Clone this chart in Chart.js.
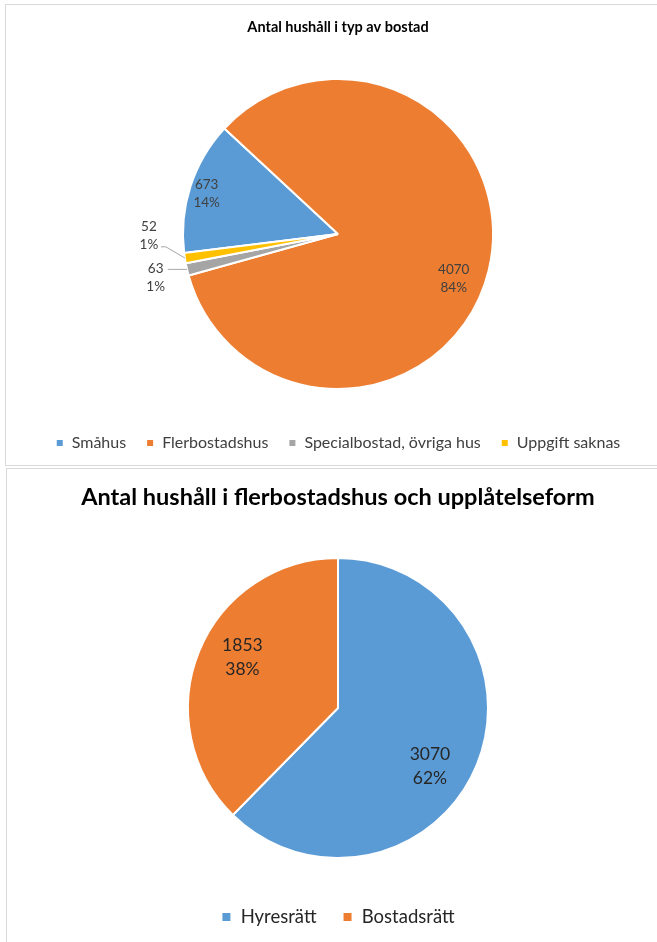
<!DOCTYPE html>
<html>
<head>
<meta charset="utf-8">
<script src="https://cdn.jsdelivr.net/npm/chart.js@4.4.1/dist/chart.umd.min.js"></script>
<style>
    body { margin: 0; width: 657px; height: 942px; overflow: hidden; background: #fff; position: relative; }
    .frame { position: absolute; border: 1px solid #d9d9d9; box-sizing: border-box; }
    .wrap { position: absolute; left: 0; width: 676px; }
</style>
</head>
<body>
<div class="frame" style="left:5px; top:4px; width:700px; height:462px;"></div>
<div class="frame" style="left:6px; top:468px; width:700px; height:500px;"></div>
<div class="wrap" style="top:0; height:465px;"><canvas id="bostadChart"></canvas></div>
<div class="wrap" style="top:468px; height:474px;"><canvas id="formChart"></canvas></div>
<script>
document.addEventListener("DOMContentLoaded", () => {
    const FONT = "Lato, 'Open Sans', sans-serif";

    // etiketter i tårtbitarna: r = andel av radien, da = vridning i grader från mitten
    const sliceLabels = {
        id: "sliceLabels",
        afterDatasetsDraw(chart, args, opts) {
            const ctx = chart.ctx;
            const values = chart.data.datasets[0].data;
            const total = values.reduce((a, b) => a + b, 0);
            ctx.save();
            ctx.font = opts.size + "px " + FONT;
            ctx.fillStyle = opts.color;
            ctx.textAlign = "center";
            ctx.textBaseline = "middle";
            chart.getDatasetMeta(0).data.forEach((arc, i) => {
                const p = opts.place[i];
                const mid = (arc.startAngle + arc.endAngle) / 2;
                const ang = mid + p.da * Math.PI / 180;
                const x = arc.x + Math.cos(ang) * arc.outerRadius * p.r;
                const y = arc.y + Math.sin(ang) * arc.outerRadius * p.r;
                const pct = Math.round(values[i] / total * 100) + "%";
                ctx.fillText(String(values[i]), x, y - opts.gap / 2);
                ctx.fillText(pct, x, y + opts.gap / 2);
                if (p.r > 1) {
                    // hänvisningslinje till kanten av biten
                    const ex = arc.x + Math.cos(mid) * arc.outerRadius;
                    const ey = arc.y + Math.sin(mid) * arc.outerRadius;
                    const top = y - opts.gap / 2 - opts.size / 2;
                    const bot = y + opts.gap / 2 + opts.size / 2;
                    const ay = Math.min(Math.max(ey, top), bot - 5);
                    const ax = x + 12;
                    ctx.strokeStyle = "#a6a6a6";
                    ctx.lineWidth = 1;
                    ctx.beginPath();
                    ctx.moveTo(ax, ay);
                    ctx.lineTo(ax + 5, ay);
                    ctx.lineTo(ex, ey);
                    ctx.stroke();
                }
            });
            ctx.restore();
        }
    };

    const bostad = {
        labels: ["Småhus", "Flerbostadshus", "Specialbostad, övriga hus", "Uppgift saknas"],
        values: [673, 4070, 63, 52],
        colors: ["#5b9bd5", "#ed7d31", "#a5a5a5", "#ffc000"],
    };

    const upplatelse = {
        labels: ["Hyresrätt", "Bostadsrätt"],
        values: [3070, 1853],
        colors: ["#5b9bd5", "#ed7d31"],
    };

    new Chart(document.getElementById("bostadChart"), {
        type: "pie",
        data: {
            labels: bostad.labels,
            datasets: [{
                data: bostad.values,
                backgroundColor: bostad.colors,
                borderColor: "#fff",
                borderWidth: 2,
                radius: 155,
            }],
        },
        options: {
            responsive: true,
            maintainAspectRatio: false,
            animation: false,
            rotation: 263,
            layout: { padding: { top: 0, bottom: 4 } },
            plugins: {
                title: {
                    display: true,
                    text: "Antal hushåll i typ av bostad",
                    color: "#000",
                    font: { family: FONT, size: 14.5, weight: "bold" },
                    padding: { top: 18.7, bottom: 16.9 },
                },
                legend: {
                    position: "bottom",
                    labels: {
                        color: "#404040",
                        boxWidth: 8,
                        boxHeight: 8,
                        padding: 20,
                        font: { family: FONT, size: 16 },
                    },
                },
                tooltip: { enabled: false },
                sliceLabels: {
                    size: 13.5,
                    gap: 18,
                    color: "#404040",
                    place: [
                        { r: 0.886, da: -1 },
                        { r: 0.8, da: 7.4 },
                        { r: 1.21, da: -0.4 },
                        { r: 1.22, da: 8.3 },
                    ],
                },
            },
        },
        plugins: [sliceLabels],
    });

    new Chart(document.getElementById("formChart"), {
        type: "pie",
        data: {
            labels: upplatelse.labels,
            datasets: [{
                data: upplatelse.values,
                backgroundColor: upplatelse.colors,
                borderColor: "#fff",
                borderWidth: 2,
                radius: 150,
            }],
        },
        options: {
            responsive: true,
            maintainAspectRatio: false,
            animation: false,
            layout: { padding: { top: 0, bottom: 5.75 } },
            plugins: {
                title: {
                    display: true,
                    text: "Antal hushåll i flerbostadshus och upplåtelseform",
                    color: "#000",
                    font: { family: FONT, size: 23.5, weight: "bold" },
                    padding: { top: 14.9, bottom: 23.15 },
                },
                legend: {
                    position: "bottom",
                    labels: {
                        color: "#262626",
                        boxWidth: 10,
                        boxHeight: 10,
                        padding: 26,
                        font: { family: FONT, size: 18.5 },
                    },
                },
                tooltip: { enabled: false },
                sliceLabels: {
                    size: 17.5,
                    gap: 24,
                    color: "#262626",
                    place: [
                        { r: 0.725, da: 10 },
                        { r: 0.72, da: 5.5 },
                    ],
                },
            },
        },
        plugins: [sliceLabels],
    });
});
</script>
</body>
</html>
